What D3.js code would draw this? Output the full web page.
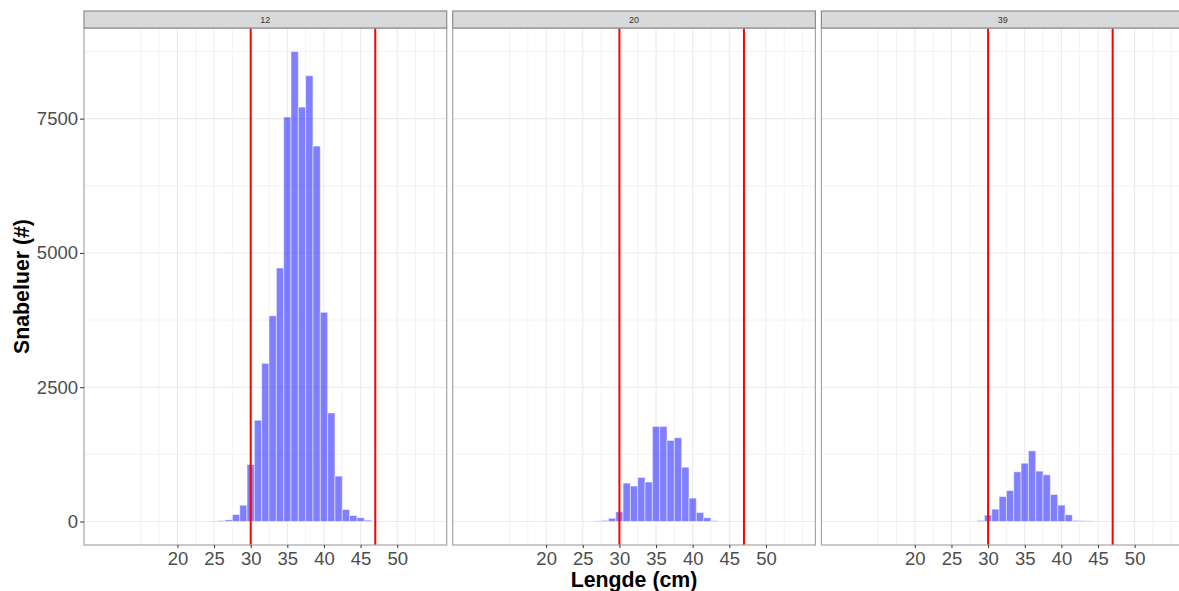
<!DOCTYPE html>
<html>
<head>
<meta charset="utf-8">
<script src="https://cdn.jsdelivr.net/npm/d3@7"></script>
<style>
  body { margin: 0; background: #fff; }
  text { font-family: "Liberation Sans", Arial, sans-serif; }
</style>
</head>
<body>
<svg id="hist" width="1179" height="591"></svg>
<script>
// facet labels (fartøy / stasjon)
const panels = ["12", "20", "39"];

// lengths (cm, bin centres) and counts for each facet
const lengde12 = [25, 26, 27, 28, 29, 30, 31, 32, 33, 34, 35, 36, 37, 38, 39, 40, 41, 42, 43, 44, 45, 46, 47];
const antall12 = [8, 15, 30, 130, 303, 1060, 1885, 2945, 3830, 4720, 7530, 8750, 7715, 8300, 6990, 3895, 2020, 845, 223, 110, 70, 25, 8];

const lengde20 = [27, 28, 29, 30, 31, 32, 33, 34, 35, 36, 37, 38, 39, 40, 41, 42, 43];
const antall20 = [10, 20, 60, 180, 715, 660, 820, 735, 1770, 1770, 1510, 1560, 1010, 435, 168, 70, 15];

const lengde39 = [29, 30, 31, 32, 33, 34, 35, 36, 37, 38, 39, 40, 41, 42, 43, 44];
const antall39 = [20, 118, 230, 465, 577, 925, 1085, 1315, 938, 870, 503, 305, 125, 20, 15, 10];

const xBreaks = [20, 25, 30, 35, 40, 45, 50];
const xMinor = [15, 17.5, 22.5, 27.5, 32.5, 37.5, 42.5, 47.5, 52.5, 55];
const yBreaks = [0, 2500, 5000, 7500];
const yMinor = [1250, 3750, 6250, 8750];
const limits = [30, 47]; // minstemål / maks
const xRange = [9.5, 54.5];

const series = [lengde12, lengde20, lengde39].map((l, i) => ({
  panel: panels[i],
  bins: l.map((d, j) => ({ x: d, n: [antall12, antall20, antall39][i][j] })),
}));

const svg = d3.select("#hist");

const margin = { top: 28, left: 84, bottom: 46 };
const panelW = 362.7;
const gap = 6;
const stripH = 17;
const innerHeight = +svg.attr("height") - margin.top - margin.bottom;

// ggplot style 5% expansion
const xPad = (xRange[1] - xRange[0]) * 0.05;
const x = d3.scaleLinear()
  .domain([xRange[0] - xPad, xRange[1] + xPad])
  .range([0, panelW]);

const yMax = d3.max([antall12, antall20, antall39].flat());
const y = d3.scaleLinear()
  .domain([-yMax * 0.05, yMax * 1.05])
  .range([innerHeight, 0]);

const renderPanel = (s, i) => {
  const g = svg.append("g")
    .attr("transform", `translate(${margin.left + i * (panelW + gap)},${margin.top})`);

  // grid
  g.selectAll(".vminor").data(xMinor).enter().append("line")
    .attr("x1", d => x(d)).attr("x2", d => x(d))
    .attr("y1", 0).attr("y2", innerHeight)
    .attr("stroke", "#EBEBEB").attr("stroke-width", 0.6);
  g.selectAll(".hminor").data(yMinor).enter().append("line")
    .attr("x1", 0).attr("x2", panelW)
    .attr("y1", d => y(d)).attr("y2", d => y(d))
    .attr("stroke", "#EBEBEB").attr("stroke-width", 0.6);
  g.selectAll(".vmajor").data(xBreaks).enter().append("line")
    .attr("x1", d => x(d)).attr("x2", d => x(d))
    .attr("y1", 0).attr("y2", innerHeight)
    .attr("stroke", "#EBEBEB").attr("stroke-width", 1.1);
  g.selectAll(".hmajor").data(yBreaks).enter().append("line")
    .attr("x1", 0).attr("x2", panelW)
    .attr("y1", d => y(d)).attr("y2", d => y(d))
    .attr("stroke", "#EBEBEB").attr("stroke-width", 1.1);

  // bars (1 cm bins)
  g.selectAll(".bar").data(s.bins).enter().append("rect")
    .attr("x", d => x(d.x - 0.5))
    .attr("width", x(1) - x(0))
    .attr("y", d => y(d.n))
    .attr("height", d => y(0) - y(d.n))
    .attr("fill", "rgba(0,0,255,0.5)")
    .attr("stroke", "rgba(255,255,255,0.5)")
    .attr("stroke-width", 1);

  // red reference lines
  g.selectAll(".limit").data(limits).enter().append("line")
    .attr("x1", d => x(d)).attr("x2", d => x(d))
    .attr("y1", 0).attr("y2", innerHeight)
    .attr("stroke", "#FF0000").attr("stroke-width", 2);

  // panel border
  g.append("rect")
    .attr("width", panelW).attr("height", innerHeight)
    .attr("fill", "none").attr("stroke", "#A6A6A6").attr("stroke-width", 1.2);

  // strip
  g.append("rect")
    .attr("y", -stripH).attr("width", panelW).attr("height", stripH)
    .attr("fill", "#D9D9D9").attr("stroke", "#8C8C8C").attr("stroke-width", 1.2);
  g.append("text")
    .attr("x", panelW / 2).attr("y", -stripH / 2 + 3)
    .attr("text-anchor", "middle")
    .attr("font-size", 9).attr("fill", "#333")
    .text(s.panel);

  // x axis
  const xAxis = d3.axisBottom(x).tickValues(xBreaks).tickSize(3).tickPadding(4);
  const xa = g.append("g")
    .attr("transform", `translate(0,${innerHeight})`)
    .call(xAxis);
  xa.select(".domain").remove();
  xa.selectAll(".tick line").attr("stroke", "#333");
  xa.selectAll(".tick text").attr("fill", "#4D4D4D").attr("font-size", 18.5)
    .attr("font-family", "Liberation Sans, Arial, sans-serif");

  // y axis only on first facet
  if (i === 0) {
    const yAxis = d3.axisLeft(y).tickValues(yBreaks).tickFormat(d3.format("d"))
      .tickSize(4).tickPadding(2);
    const ya = g.append("g").call(yAxis);
    ya.select(".domain").remove();
    ya.selectAll(".tick line").attr("stroke", "#333");
    ya.selectAll(".tick text").attr("fill", "#4D4D4D").attr("font-size", 18.5)
      .attr("font-family", "Liberation Sans, Arial, sans-serif");
  }
};

series.forEach(renderPanel);

// axis titles
const fullW = 3 * panelW + 2 * gap;
svg.append("text")
  .attr("x", margin.left + fullW / 2)
  .attr("y", 587)
  .attr("text-anchor", "middle")
  .attr("font-size", 21.3).attr("font-weight", "bold").attr("fill", "#000")
  .text("Lengde (cm)");

svg.append("text")
  .attr("transform", `translate(28.5,${margin.top + innerHeight / 2}) rotate(-90)`)
  .attr("text-anchor", "middle")
  .attr("font-size", 21.3).attr("font-weight", "bold").attr("fill", "#000")
  .text("Snabeluer (#)");
</script>
</body>
</html>
